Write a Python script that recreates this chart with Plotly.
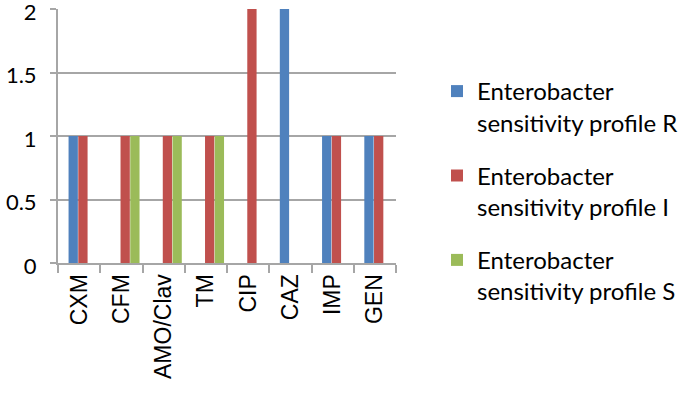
import plotly.graph_objects as go

categories = ["CXM", "CFM", "AMO/Clav", "TM", "CIP", "CAZ", "IMP", "GEN"]
profile_R = [1, 0, 0, 0, 0, 2, 1, 1]
profile_I = [1, 1, 1, 1, 2, 0, 1, 1]
profile_S = [0, 1, 1, 1, 0, 0, 0, 0]
series_names = [
    "Enterobacter<br>sensitivity profile R",
    "Enterobacter<br>sensitivity profile I",
    "Enterobacter<br>sensitivity profile S",
]
colors = ["#4F81BD", "#C0504D", "#9BBB59"]
bar_offsets = [-0.25, -0.02, 0.21]

fig = go.Figure()
for name, vals, col, off in zip(series_names, [profile_R, profile_I, profile_S], colors, bar_offsets):
    fig.add_trace(go.Bar(
        x=categories, y=vals, name=name, legendgroup=name,
        offset=off, width=0.22,
        marker=dict(color=col, line=dict(color=col, width=0)),
    ))

fig.update_layout(
    width=685, height=393,
    margin=dict(l=58, r=289, t=9, b=130, autoexpand=False),
    paper_bgcolor="white", plot_bgcolor="white",
    barmode="group",
    showlegend=True,
    legend=dict(
        xref="container", yref="container",
        x=437 / 685, y=1 - 69 / 393, xanchor="left", yanchor="top",
        font=dict(family="Lato", size=24, color="black"),
        tracegroupgap=19, valign="top", itemwidth=30,
        bgcolor="rgba(0,0,0,0)", maxheight=1,
    ),
    xaxis=dict(
        type="category", tickangle=-90, tickson="boundaries",
        ticks="outside", ticklen=8, tickcolor="#A6A6A6", tickwidth=2,
        showline=True, linecolor="#A6A6A6", linewidth=2,
        showgrid=False, automargin=False,
        tickfont=dict(family="Liberation Sans, Arial", size=23, color="black"),
    ),
    yaxis=dict(
        range=[0, 2.0], dtick=0.5, tick0=0,
        ticks="outside", ticklen=6, tickcolor="#A6A6A6", tickwidth=2,
        showline=True, linecolor="#A6A6A6", linewidth=2,
        showgrid=True, gridcolor="#A6A6A6", gridwidth=2,
        zeroline=False, automargin=False,
        ticklabelstandoff=9, ticklabeloverflow="allow", ticklabelshift=3,
        tickfont=dict(family="Lato", size=22, color="black"),
    ),
)

fig.write_html("out.html", config={"displayModeBar": False},
               post_script="document.body.style.margin='0';")
